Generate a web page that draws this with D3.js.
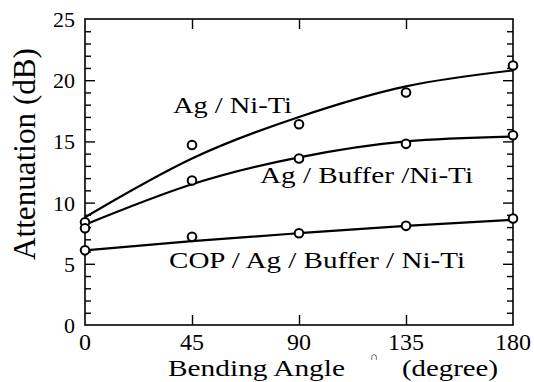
<!DOCTYPE html>
<html>
<head>
<meta charset="utf-8">
<script src="https://cdn.jsdelivr.net/npm/d3@7"></script>
<style>
  body { margin: 0; background: #fff; }
  svg { display: block; }
</style>
</head>
<body>
<div id="chart"></div>
<script>
// bending angle (degree)
const angles = [0, 45, 90, 135, 180];

// measured attenuation (dB), circles
const agNiTi = [8.4, 14.7, 16.4, 19.0, 21.2];
const agBufNiTi = [7.9, 11.8, 13.6, 14.8, 15.5];
const copAgBufNiTi = [6.1, 7.2, 7.5, 8.1, 8.7];

// fitted curves at the same angles
const fitAgNiTi = [8.8, 13.6, 17.0, 19.5, 20.8];
const fitAgBufNiTi = [8.2, 11.5, 13.7, 15.0, 15.4];
const fitCop = [6.1, 6.85, 7.5, 8.1, 8.6];

const xTicks = [0, 45, 90, 135, 180];
const yTicks = [0, 5, 10, 15, 20, 25];
const yMinor = d3.range(0, 26, 1);

const seriesLabels = [
  { text: 'Ag / Ni-Ti', x: 173, y: 113, len: 119 },
  { text: 'Ag / Buffer /Ni-Ti', x: 260, y: 183, len: 213 },
  { text: 'COP / Ag / Buffer / Ni-Ti', x: 169, y: 268, len: 296 },
];

const width = 534;
const height = 382;

const x = d3.scaleLinear().domain([0, 180]).range([85, 513]);
const y = d3.scaleLinear().domain([0, 25]).range([325, 19]);

const svg = d3
  .select('#chart')
  .append('svg')
  .attr('width', width)
  .attr('height', height);

const serif = "'Liberation Serif', 'Times New Roman', serif";

// frame
svg
  .append('rect')
  .attr('x', x(0))
  .attr('y', y(25))
  .attr('width', x(180) - x(0))
  .attr('height', y(0) - y(25))
  .attr('fill', 'none')
  .attr('stroke', '#000')
  .attr('stroke-width', 1.6);

const styleAxis = (g) => {
  g.select('.domain').remove();
  g.selectAll('.tick line').attr('stroke', '#000').attr('stroke-width', 1.4);
};

// bottom axis with labels
svg
  .append('g')
  .attr('transform', `translate(0,${y(0)})`)
  .call(d3.axisBottom(x).tickValues(xTicks.slice(1, -1)).tickSize(-10).tickFormat(''))
  .call(styleAxis);

svg
  .append('g')
  .selectAll('text')
  .data(xTicks)
  .enter()
  .append('text')
  .attr('x', (d) => x(d))
  .attr('y', 350)
  .attr('text-anchor', 'middle')
  .style('font-family', serif)
  .style('font-size', '24px')
  .text((d) => d);

// top axis
svg
  .append('g')
  .attr('transform', `translate(0,${y(25)})`)
  .call(d3.axisTop(x).tickValues(xTicks.slice(1, -1)).tickSize(-10).tickFormat(''))
  .call(styleAxis);

// left axis
svg
  .append('g')
  .attr('transform', `translate(${x(0)},0)`)
  .call(d3.axisLeft(y).tickValues(yMinor.filter((d) => d % 5)).tickSize(-6).tickFormat(''))
  .call(styleAxis);

svg
  .append('g')
  .attr('transform', `translate(${x(0)},0)`)
  .call(d3.axisLeft(y).tickValues(yTicks.slice(1, -1)).tickSize(-10).tickFormat(''))
  .call(styleAxis);

svg
  .append('g')
  .selectAll('text')
  .data(yTicks)
  .enter()
  .append('text')
  .attr('x', 75)
  .attr('y', (d) => y(d) + 8)
  .attr('text-anchor', 'end')
  .style('font-family', serif)
  .style('font-size', '22px')
  .text((d) => d);

// right axis
svg
  .append('g')
  .attr('transform', `translate(${x(180)},0)`)
  .call(d3.axisRight(y).tickValues(yMinor.filter((d) => d % 5)).tickSize(-6).tickFormat(''))
  .call(styleAxis);

svg
  .append('g')
  .attr('transform', `translate(${x(180)},0)`)
  .call(d3.axisRight(y).tickValues(yTicks.slice(1, -1)).tickSize(-10).tickFormat(''))
  .call(styleAxis);

// fitted curves
const line = d3
  .line()
  .x((d, i) => x(angles[i]))
  .y((d) => y(d))
  .curve(d3.curveNatural);

[fitAgNiTi, fitAgBufNiTi, fitCop].forEach((fit) => {
  svg
    .append('path')
    .datum(fit)
    .attr('fill', 'none')
    .attr('stroke', '#000')
    .attr('stroke-width', 2.2)
    .attr('d', line);
});

// measured points
[agNiTi, agBufNiTi, copAgBufNiTi].forEach((vals) => {
  svg
    .append('g')
    .selectAll('circle')
    .data(vals)
    .enter()
    .append('circle')
    .attr('cx', (d, i) => x(angles[i]))
    .attr('cy', (d) => y(d))
    .attr('r', 4.3)
    .attr('fill', '#fff')
    .attr('stroke', '#000')
    .attr('stroke-width', 2);
});

// series labels
svg
  .append('g')
  .selectAll('text')
  .data(seriesLabels)
  .enter()
  .append('text')
  .attr('x', (d) => d.x)
  .attr('y', (d) => d.y)
  .attr('textLength', (d) => d.len)
  .attr('lengthAdjust', 'spacingAndGlyphs')
  .style('font-family', serif)
  .style('font-size', '22.5px')
  .text((d) => d.text);

// axis titles
svg
  .append('text')
  .attr('x', 168)
  .attr('y', 376)
  .attr('textLength', 177)
  .attr('lengthAdjust', 'spacingAndGlyphs')
  .style('font-family', serif)
  .style('font-size', '22.5px')
  .text('Bending Angle');

svg
  .append('text')
  .attr('x', 374)
  .attr('y', 360)
  .attr('text-anchor', 'middle')
  .style('font-family', serif)
  .style('font-size', '11px')
  .text('∩');

svg
  .append('text')
  .attr('x', 402)
  .attr('y', 376)
  .attr('textLength', 96)
  .attr('lengthAdjust', 'spacingAndGlyphs')
  .style('font-family', serif)
  .style('font-size', '22.5px')
  .text('(degree)');

svg
  .append('text')
  .attr('transform', 'translate(35,260) rotate(-90)')
  .attr('textLength', 212)
  .attr('lengthAdjust', 'spacingAndGlyphs')
  .style('font-family', serif)
  .style('font-size', '32px')
  .text('Attenuation (dB)');
</script>
</body>
</html>
